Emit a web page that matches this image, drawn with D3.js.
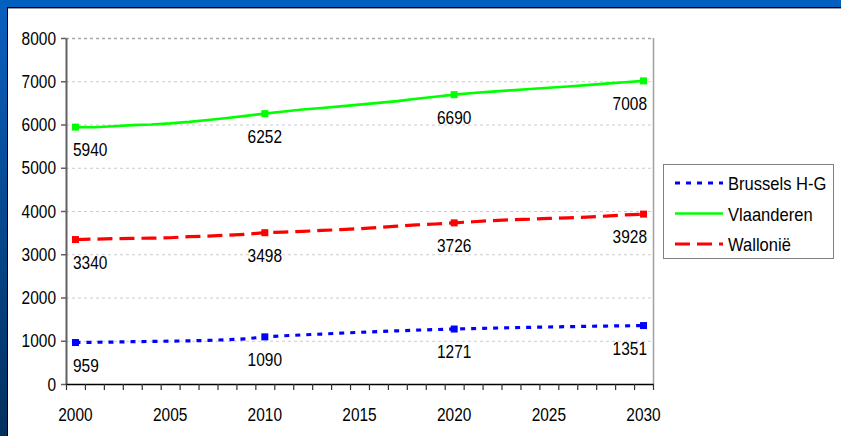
<!DOCTYPE html>
<html>
<head>
<meta charset="utf-8">
<script src="https://cdn.jsdelivr.net/npm/d3@7"></script>
<style>
  body { margin: 0; background: #ffffff; }
  svg { display: block; font-family: "Liberation Sans", Arial, sans-serif; }
</style>
</head>
<body>
<svg id="chart" width="841" height="436"></svg>
<script>
// jaren (categorie-as)
var years = d3.range(2000, 2031);
var xLabels = ["2000", "2005", "2010", "2015", "2020", "2025", "2030"];
var yTicks = [0, 1000, 2000, 3000, 4000, 5000, 6000, 7000, 8000];
var labelYears = [2000, 2010, 2020, 2030];

// bevolking in duizendtallen
var brussel = [959, 965, 970, 978, 984, 990, 998, 1008, 1025, 1045, 1090, 1115, 1135, 1155, 1175, 1195, 1212, 1230, 1245, 1258, 1271,
    1282, 1292, 1302, 1310, 1318, 1326, 1333, 1340, 1345, 1351];
var vlaanderen = [5940, 5935, 5960, 5985, 6000, 6025, 6060, 6105, 6150, 6200, 6252, 6300, 6345, 6380, 6420, 6460, 6500, 6540, 6595, 6640, 6690,
    6728, 6760, 6790, 6820, 6850, 6880, 6910, 6945, 6978, 7008];
var wallonie = [3340, 3350, 3360, 3368, 3372, 3382, 3408, 3420, 3440, 3462, 3498, 3512, 3530, 3550, 3570, 3592, 3620, 3650, 3678, 3700, 3726,
    3752, 3778, 3798, 3810, 3828, 3842, 3860, 3882, 3908, 3928];

var series = [
    { name: "Brussels H-G", values: brussel, color: "#0000ff", dash: "5,6", width: 3.2 },
    { name: "Vlaanderen", values: vlaanderen, color: "#00ff00", dash: null, width: 2.6 },
    { name: "Wallonië", values: wallonie, color: "#ff0000", dash: "15,7", width: 3.2 }
];

var svg = d3.select("#chart");
var pLeft = 66, pRight = 653, pTop = 38, pBottom = 384;
var sx = 0.86; // tekst iets smaller maken, zoals in de dia

// achtergrond van de dia
var defs = svg.append("defs");
var grad = defs.append("linearGradient").attr("id", "side").attr("x1", 0).attr("y1", 0).attr("x2", 0).attr("y2", 1);
grad.append("stop").attr("offset", "0%").attr("stop-color", "#0a60c0");
grad.append("stop").attr("offset", "100%").attr("stop-color", "#03305e");
svg.append("rect").attr("width", 841).attr("height", 436).attr("fill", "url(#side)");
svg.append("rect").attr("width", 841).attr("height", 8).attr("fill", "#005fbf");
svg.append("rect").attr("x", 7).attr("y", 7).attr("width", 834).attr("height", 429).attr("fill", "#000");
svg.append("rect").attr("x", 8).attr("y", 8).attr("width", 833).attr("height", 428).attr("fill", "#9a9a9a");
svg.append("rect").attr("x", 8).attr("y", 9).attr("width", 833).attr("height", 427).attr("fill", "#ffffff");

var x = d3.scaleLinear().domain([2000, 2031]).range([pLeft, pRight]);
var y = d3.scaleLinear().domain([0, 8000]).range([pBottom, pTop]);
function cx(yr) { return x(yr + 0.5); }

function txt(g, px, py, s, anchor, size) {
    return g.append("text")
        .attr("transform", "translate(" + px + "," + py + ") scale(" + sx + ",1)")
        .attr("text-anchor", anchor)
        .attr("font-size", size || 18)
        .attr("fill", "#000")
        .text(s);
}

// rasterlijnen
svg.append("g").selectAll("line").data(yTicks.filter(function(d) { return d > 0; }))
    .enter().append("line")
    .attr("x1", pLeft).attr("x2", pRight)
    .attr("y1", function(d) { return y(d) + 0.5; }).attr("y2", function(d) { return y(d) + 0.5; })
    .attr("stroke", function(d) { return d === 8000 ? "#a8a8a8" : "#cccccc"; })
    .attr("stroke-width", function(d) { return d === 8000 ? 1.5 : 1; })
    .attr("stroke-dasharray", "3,3");
svg.append("line").attr("x1", pRight + 0.5).attr("x2", pRight + 0.5).attr("y1", pTop).attr("y2", pBottom)
    .attr("stroke", "#a0a0a0").attr("stroke-width", 1.5);

// y-as
var yAxis = svg.append("g").attr("transform", "translate(" + pLeft + ",0)")
    .call(d3.axisLeft(y).tickValues(yTicks).tickSize(5).tickSizeOuter(0).tickFormat(""));
yAxis.select(".domain").attr("stroke", "#606060").attr("stroke-width", 2);
yAxis.selectAll(".tick line").attr("stroke", "#606060").attr("stroke-width", 1.5);
yTicks.forEach(function(d) { txt(svg, 56, y(d) + 6.5, d, "end"); });

// x-as
var xAxis = svg.append("g").attr("transform", "translate(0," + pBottom + ")")
    .call(d3.axisBottom(x).tickValues(d3.range(2000, 2032)).tickSize(6).tickSizeOuter(0).tickFormat(""));
xAxis.select(".domain").attr("stroke", "#000").attr("stroke-width", 1.5);
xAxis.selectAll(".tick line").attr("stroke", "#303030").attr("stroke-width", 1.2);
xLabels.forEach(function(d) { txt(svg, cx(+d), 420.5, d, "middle"); });

// lijnen
var line = d3.line()
    .x(function(d, i) { return cx(years[i]); })
    .y(function(d) { return y(d); });

series.forEach(function(s) {
    svg.append("path").datum(s.values)
        .attr("d", line)
        .attr("fill", "none")
        .attr("stroke", s.color)
        .attr("stroke-width", s.width)
        .attr("stroke-dasharray", s.dash);

    labelYears.forEach(function(yr) {
        var v = s.values[years.indexOf(yr)];
        svg.append("rect")
            .attr("x", cx(yr) - 3.5).attr("y", y(v) - 3.5)
            .attr("width", 7).attr("height", 7)
            .attr("fill", s.color);
        // label onder het punt, binnen het plotvlak gehouden
        var t = txt(svg, 0, 0, v, "start");
        var w = t.node().getComputedTextLength() * sx;
        var lx = cx(yr) - w / 2;
        if (lx < pLeft + 7) lx = pLeft + 7;
        if (lx + w > pRight - 6) lx = pRight - 6 - w;
        t.attr("transform", "translate(" + lx + "," + (y(v) + 29) + ") scale(" + sx + ",1)");
    });
});

// legenda
var lg = svg.append("g");
lg.append("rect").attr("x", 663.5).attr("y", 164.5).attr("width", 170).attr("height", 94)
    .attr("fill", "#fff").attr("stroke", "#808080").attr("stroke-width", 1);
series.forEach(function(s, i) {
    var ly = 183 + i * 30.5;
    lg.append("line").attr("x1", 675).attr("x2", 723).attr("y1", ly).attr("y2", ly)
        .attr("stroke", s.color).attr("stroke-width", s.width).attr("stroke-dasharray", s.dash);
    txt(lg, 728, ly + 7, s.name, "start").attr("transform", "translate(728," + (ly + 7) + ") scale(0.92,1)");
});
</script>
</body>
</html>
